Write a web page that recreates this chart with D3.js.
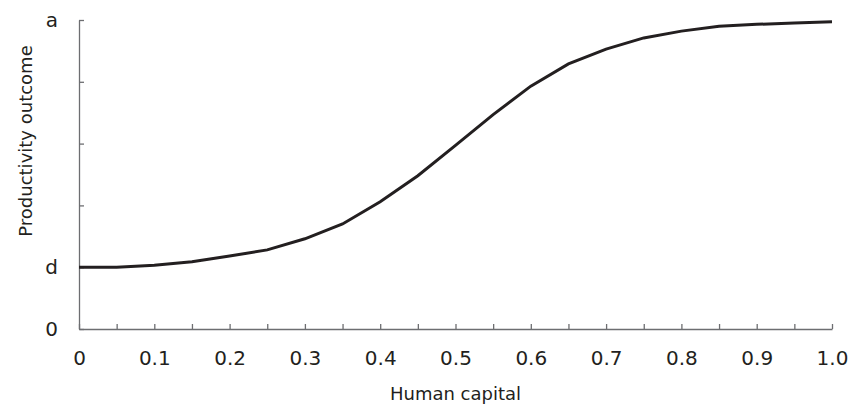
<!DOCTYPE html>
<html>
<head>
<meta charset="utf-8">
<script src="https://cdn.jsdelivr.net/npm/d3@7"></script>
<style>
  body { margin: 0; background: #fff; }
  text { font-family: "DejaVu Sans", sans-serif; fill: #231f20; }
</style>
</head>
<body>
<div id="chart-area"></div>
<script>
var margin = {"left": 79, "right": 25, "top": 20, "bottom": 77}
const WIDTH = 857, HEIGHT = 406
const GRAPH_WIDTH = WIDTH - margin.left - margin.right
const GRAPH_HEIGHT = HEIGHT - margin.top - margin.bottom

// curve, y in tick units (d = 1, a = 5)
var capital = [0, 0.05, 0.1, 0.15, 0.2, 0.25, 0.3, 0.35, 0.4, 0.45, 0.5,
               0.55, 0.6, 0.65, 0.7, 0.75, 0.8, 0.85, 0.9, 0.95, 1.0]
var outcome = [1.00, 1.00, 1.03, 1.09, 1.18, 1.28, 1.46, 1.70, 2.06, 2.48, 2.97,
               3.47, 3.93, 4.29, 4.53, 4.71, 4.82, 4.90, 4.93, 4.95, 4.97]

var xTicks = [0, 0.05, 0.1, 0.15, 0.2, 0.25, 0.3, 0.35, 0.4, 0.45, 0.5,
              0.55, 0.6, 0.65, 0.7, 0.75, 0.8, 0.85, 0.9, 0.95, 1.0]
var xLabels = ["0", "", "0.1", "", "0.2", "", "0.3", "", "0.4", "", "0.5",
               "", "0.6", "", "0.7", "", "0.8", "", "0.9", "", "1.0"]
var yTicks = [0, 1, 2, 3, 4, 5]
var yLabels = ["0", "d", "", "", "", "a"]

var svg = d3.select('#chart-area').append("svg")
    .attr("width", WIDTH)
    .attr("height", HEIGHT)

var g = svg.append("g")
    .attr("transform", "translate(" + margin.left + "," + margin.top + ")")

var xScale = d3.scaleLinear().domain([0, 1]).range([0, GRAPH_WIDTH])
var yScale = d3.scaleLinear().domain([0, 5]).range([GRAPH_HEIGHT, 0])

var xAxisCall = d3.axisBottom(xScale)
    .tickValues(xTicks)
    .tickSize(-5)
    .tickSizeOuter(0)
    .tickPadding(22)
    .tickFormat(function(d, i){ return xLabels[i] })
var yAxisCall = d3.axisLeft(yScale)
    .tickValues(yTicks)
    .tickSize(-5)
    .tickSizeOuter(0)
    .tickPadding(21)
    .tickFormat(function(d, i){ return yLabels[i] })

var xAxisGroup = g.append("g")
    .attr("transform", "translate(0," + GRAPH_HEIGHT + ")")
    .call(xAxisCall)
var yAxisGroup = g.append("g").call(yAxisCall)

svg.selectAll(".domain, .tick line")
    .attr("stroke", "#6d6e71")
    .attr("stroke-width", 1.3)
svg.selectAll(".tick text")
    .attr("font-size", "20px")
    .attr("font-family", "DejaVu Sans, sans-serif")
    .attr("fill", "#231f20")

// x label
g.append("text")
    .attr("x", GRAPH_WIDTH / 2)
    .attr("y", GRAPH_HEIGHT + 71)
    .attr("font-size", "18px")
    .attr("text-anchor", "middle")
    .text("Human capital")

// y label
g.append("text")
    .attr("transform", "rotate(-90)")
    .attr("x", -121)
    .attr("y", -47)
    .attr("font-size", "18px")
    .attr("text-anchor", "middle")
    .text("Productivity outcome")

var line = d3.line()
    .x(function(d, i){ return xScale(capital[i]) })
    .y(function(d){ return yScale(d) })

g.append("path")
    .datum(outcome)
    .attr("fill", "none")
    .attr("stroke", "#231f20")
    .attr("stroke-width", 3)
    .attr("d", line)
</script>
</body>
</html>
